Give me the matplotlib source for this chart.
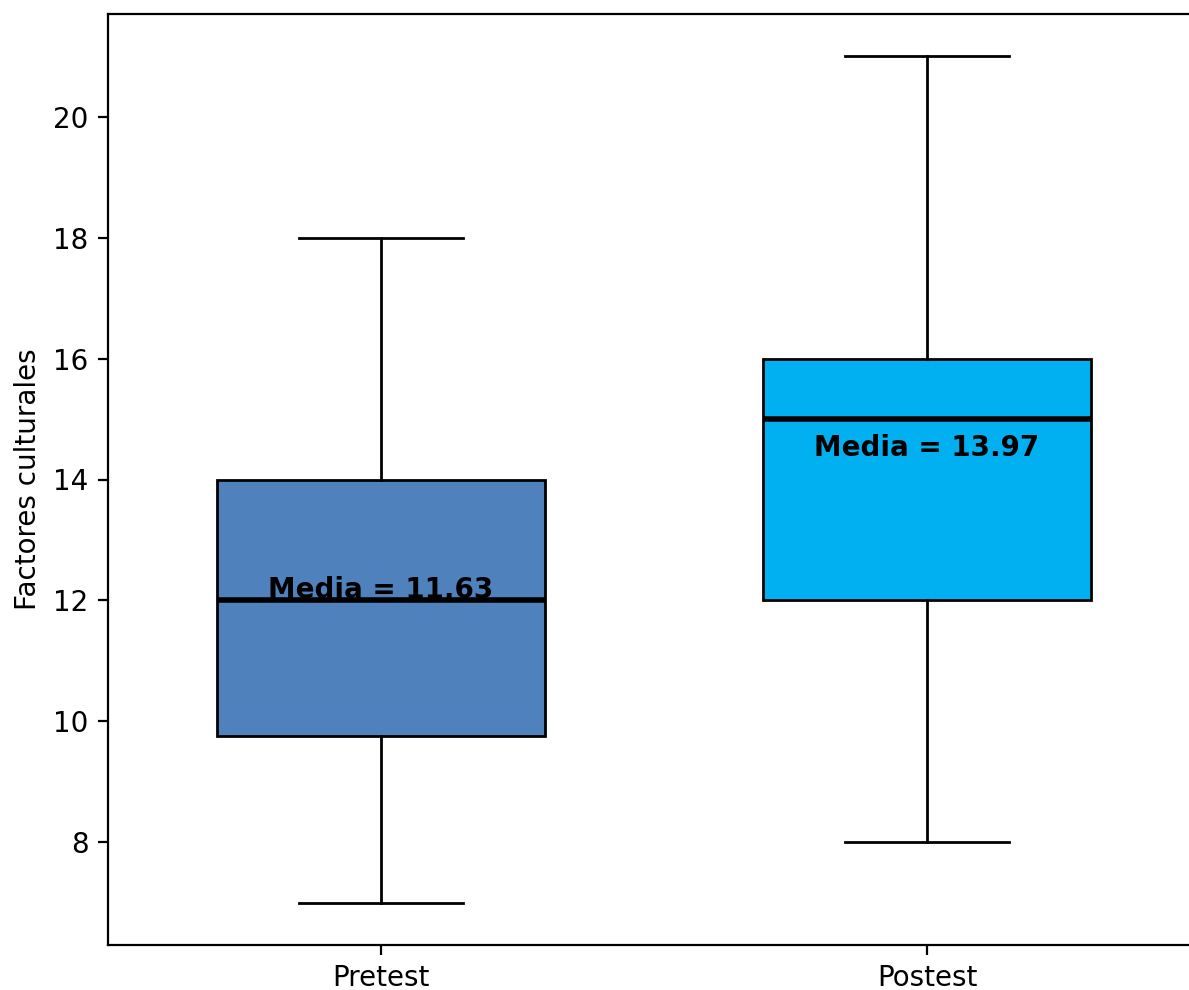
import matplotlib
matplotlib.use("Agg")
import matplotlib.pyplot as plt

categories = ["Pretest", "Postest"]
whislo = [7, 8]
q1 = [9.75, 12]
med = [12, 15]
q3 = [14, 16]
whishi = [18, 21]
means = [11.63, 13.97]
colors = ["#4F81BD", "#00B0F0"]

fig = plt.figure(figsize=(1189/200, 990/200), dpi=200)
ax = fig.add_axes([108/1189, 1-945/990, 1092/1189, (945-14)/990])

stats = []
for i, c in enumerate(categories):
    stats.append(dict(label=c, whislo=whislo[i], q1=q1[i], med=med[i],
                      q3=q3[i], whishi=whishi[i], fliers=[]))
bp = ax.bxp(stats, positions=[1, 2], widths=0.6, patch_artist=True,
            showfliers=False,
            medianprops=dict(color="black", linewidth=2),
            boxprops=dict(edgecolor="black", linewidth=1),
            whiskerprops=dict(color="black", linewidth=1),
            capprops=dict(color="black", linewidth=1))
for patch, col in zip(bp["boxes"], colors):
    patch.set_facecolor(col)

for i, m in enumerate(means):
    ax.text(i + 1, m + 0.55, f"Media = {m:.2f}", ha="center", va="center",
            fontsize=10, fontweight="bold", color="black")

ax.set_xlim(0.5, 2.5)
ax.set_ylim(6.3, 21.7)
ax.set_ylabel("Factores culturales", fontsize=10)
ax.tick_params(labelsize=10)

fig.savefig("out.png", dpi=200)
